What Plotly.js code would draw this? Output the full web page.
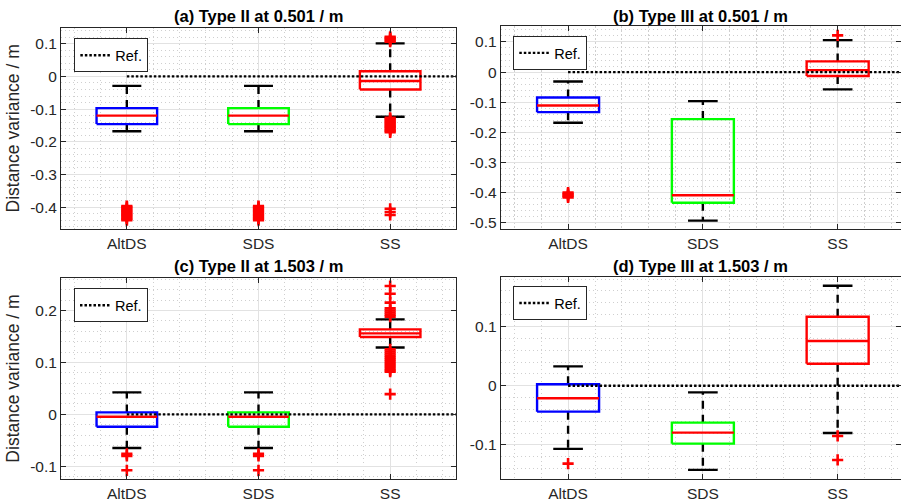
<!DOCTYPE html>
<html>
<head>
<meta charset="utf-8">
<script src="https://cdn.plot.ly/plotly-3.0.1.min.js"></script>
<style>
  html, body { margin: 0; padding: 0; background: #fff; }
  #chart { width: 901px; height: 504px; }
</style>
</head>
<body>
<div id="chart"></div>
<script>
// Box-plot statistics of the distance variance (m) for each method.
const categories = ['AltDS', 'SDS', 'SS'];
const boxColors = ['#0000ff', '#00ff00', '#ff0000'];
const refLevel = 0;

// (a) Type II at 0.501 m
const aQ1 = [-0.146, -0.146, -0.040];
const aMedian = [-0.120, -0.120, -0.014];
const aQ3 = [-0.097, -0.097, 0.016];
const aLower = [-0.168, -0.168, -0.1235];
const aUpper = [-0.029, -0.029, 0.101];
const aOutAltDS = [-0.397, -0.400, -0.404, -0.408, -0.412, -0.416, -0.420, -0.424, -0.428, -0.432, -0.436, -0.440];
const aOutSDS = [-0.397, -0.400, -0.404, -0.408, -0.412, -0.416, -0.420, -0.424, -0.428, -0.432, -0.436, -0.440];
const aOutSS = [0.106, 0.110, 0.114, 0.118, 0.121, -0.127, -0.131, -0.135, -0.139, -0.143, -0.147, -0.151,
                -0.155, -0.159, -0.163, -0.167, -0.171, -0.405, -0.415, -0.424];

// (b) Type III at 0.501 m
const bQ1 = [-0.133, -0.434, -0.013];
const bMedian = [-0.111, -0.409, 0.0066];
const bQ3 = [-0.0844, -0.156, 0.0355];
const bLower = [-0.168, -0.493, -0.0575];
const bUpper = [-0.031, -0.0963, 0.106];
const bOutAltDS = [-0.400, -0.404, -0.408, -0.412, -0.416];
const bOutSDS = [];
const bOutSS = [0.122];

// (c) Type II at 1.503 m
const cQ1 = [-0.0238, -0.0238, 0.149];
const cMedian = [-0.0046, -0.0046, 0.1558];
const cQ3 = [0.0038, 0.0038, 0.1635];
const cLower = [-0.0648, -0.0648, 0.1288];
const cUpper = [0.0423, 0.0423, 0.1827];
const cOutAltDS = [-0.076, -0.080, -0.1077];
const cOutSDS = [-0.076, -0.080, -0.1077];
const cOutSS = [0.247, 0.232, 0.215, 0.204, 0.200, 0.196, 0.192, 0.188,
                0.125, 0.121, 0.117, 0.113, 0.109, 0.105, 0.101, 0.097, 0.093, 0.089, 0.085, 0.082, 0.039];

// (d) Type III at 1.503 m
const dQ1 = [-0.0438, -0.0978, 0.0371];
const dMedian = [-0.0213, -0.0792, 0.0754];
const dQ3 = [0.0024, -0.0624, 0.1164];
const dLower = [-0.1067, -0.142, -0.0798];
const dUpper = [0.0327, -0.0112, 0.1686];
const dOutAltDS = [-0.1315];
const dOutSDS = [];
const dOutSS = [-0.0848, -0.1253];

const panels = [
  {title: '(a) Type II at 0.501 / m', q1: aQ1, med: aMedian, q3: aQ3, lo: aLower, hi: aUpper,
   out: [aOutAltDS, aOutSDS, aOutSS], yr: [-0.467, 0.149], yt: [-0.4, -0.3, -0.2, -0.1, 0, 0.1]},
  {title: '(b) Type III at 0.501 / m', q1: bQ1, med: bMedian, q3: bQ3, lo: bLower, hi: bUpper,
   out: [bOutAltDS, bOutSDS, bOutSS], yr: [-0.522, 0.153], yt: [-0.5, -0.4, -0.3, -0.2, -0.1, 0, 0.1]},
  {title: '(c) Type II at 1.503 / m', q1: cQ1, med: cMedian, q3: cQ3, lo: cLower, hi: cUpper,
   out: [cOutAltDS, cOutSDS, cOutSS], yr: [-0.125, 0.263], yt: [-0.1, 0, 0.1, 0.2]},
  {title: '(d) Type III at 1.503 / m', q1: dQ1, med: dMedian, q3: dQ3, lo: dLower, hi: dUpper,
   out: [dOutAltDS, dOutSDS, dOutSS], yr: [-0.158, 0.184], yt: [-0.1, 0, 0.1]}
];

// Subplot geometry
const xDomains = [[0.0677, 0.5061], [0.5557, 1], [0.0677, 0.5061], [0.5557, 1]];
const xRanges = [[0.5, 3.5], [0.5, 3.47], [0.5, 3.5], [0.5, 3.47]];
const yDomains = [[0.5456, 0.9450], [0.5450, 0.9484], [0.0490, 0.4490], [0.0490, 0.4510]];
const legendPos = [[0.0825, 0.9240], [0.5697, 0.9286], [0.0821, 0.4280], [0.5697, 0.4325]];
const titleY = [0.9673, 0.9692, 0.4722, 0.4732];

const FONT = 'Liberation Sans, Arial, Helvetica, sans-serif';
const INK = '#262626';
const BOX_HALF = 0.23;
const CAP_HALF = 0.11;
const LW = 2.4;

const fmt = v => (v === 0 ? '0' : String(v));

const traces = [];
const layout = {
  width: 901, height: 504,
  margin: {l: 0, r: 0, t: 0, b: 0},
  paper_bgcolor: '#ffffff', plot_bgcolor: '#ffffff',
  font: {family: FONT, color: INK},
  hovermode: false,
  annotations: []
};

panels.forEach((p, i) => {
  const n = i + 1;
  const xa = n === 1 ? 'x' : 'x' + n;
  const ya = n === 1 ? 'y' : 'y' + n;
  const legendId = n === 1 ? 'legend' : 'legend' + n;

  categories.forEach((cat, k) => {
    const c = k + 1;
    // whiskers (dashed), drawn outward from the box
    traces.push({type: 'scatter', mode: 'lines', xaxis: xa, yaxis: ya, showlegend: false,
      x: [c, c], y: [p.q3[k], p.hi[k]], line: {color: '#000', width: LW, dash: '8px,6px'}});
    traces.push({type: 'scatter', mode: 'lines', xaxis: xa, yaxis: ya, showlegend: false,
      x: [c, c], y: [p.q1[k], p.lo[k]], line: {color: '#000', width: LW, dash: '8px,6px'}});
    // whisker caps
    traces.push({type: 'scatter', mode: 'lines', xaxis: xa, yaxis: ya, showlegend: false,
      x: [c - CAP_HALF, c + CAP_HALF], y: [p.hi[k], p.hi[k]], line: {color: '#000', width: LW}});
    traces.push({type: 'scatter', mode: 'lines', xaxis: xa, yaxis: ya, showlegend: false,
      x: [c - CAP_HALF, c + CAP_HALF], y: [p.lo[k], p.lo[k]], line: {color: '#000', width: LW}});
    // box outline
    traces.push({type: 'scatter', mode: 'lines', xaxis: xa, yaxis: ya, showlegend: false,
      x: [c - BOX_HALF, c + BOX_HALF, c + BOX_HALF, c - BOX_HALF, c - BOX_HALF],
      y: [p.q1[k], p.q1[k], p.q3[k], p.q3[k], p.q1[k]],
      line: {color: boxColors[k], width: LW}});
    // median
    traces.push({type: 'scatter', mode: 'lines', xaxis: xa, yaxis: ya, showlegend: false,
      x: [c - BOX_HALF, c + BOX_HALF], y: [p.med[k], p.med[k]], line: {color: '#ff0000', width: LW}});
    // outliers
    if (p.out[k].length) {
      traces.push({type: 'scatter', mode: 'markers', xaxis: xa, yaxis: ya, showlegend: false,
        x: p.out[k].map(() => c), y: p.out[k],
        marker: {symbol: 'cross-thin', size: 8, color: '#ff0000', line: {color: '#ff0000', width: 2.6}}});
    }
  });

  // reference line at zero, from the first category to the right edge
  traces.push({type: 'scatter', mode: 'lines', xaxis: xa, yaxis: ya, name: 'Ref.',
    legend: legendId, showlegend: true,
    x: [1, xRanges[i][1]], y: [refLevel, refLevel],
    line: {color: '#000', width: 2.4, dash: '2.5px,2px'}});

  layout[n === 1 ? 'xaxis' : 'xaxis' + n] = {
    domain: xDomains[i], range: xRanges[i], anchor: ya,
    tickmode: 'array', tickvals: [1, 2, 3], ticktext: categories,
    ticks: 'inside', ticklen: 5, tickcolor: INK, tickwidth: 1,
    showline: true, linecolor: INK, linewidth: 1, mirror: 'ticks',
    showgrid: true, gridcolor: '#e2e2e2', gridwidth: 1, zeroline: false,
    tickfont: {family: FONT, size: 15.5, color: INK},
    minor: {tickmode: 'linear', tick0: 0, dtick: 0.2, showgrid: true, griddash: '1.5px,2.5px',
            gridcolor: '#cfcfcf', gridwidth: 1, ticks: ''},
    fixedrange: true
  };
  const yAxis = {
    domain: yDomains[i], range: p.yr, anchor: xa,
    tickmode: 'array', tickvals: p.yt, ticktext: p.yt.map(fmt),
    ticks: 'inside', ticklen: 5, tickcolor: INK, tickwidth: 1,
    showline: true, linecolor: INK, linewidth: 1, mirror: 'ticks',
    showgrid: true, gridcolor: '#e2e2e2', gridwidth: 1, zeroline: false,
    tickfont: {family: FONT, size: 15.5, color: INK},
    minor: {tickmode: 'linear', tick0: 0, dtick: 0.02, showgrid: true, griddash: '1.5px,2.5px',
            gridcolor: '#cfcfcf', gridwidth: 1, ticks: ''},
    fixedrange: true
  };
  if (n === 1 || n === 3) {
    yAxis.title = {text: 'Distance variance / m', font: {family: FONT, size: 17.5, color: INK}, standoff: 6};
  }
  layout[n === 1 ? 'yaxis' : 'yaxis' + n] = yAxis;

  layout[legendId] = {
    x: legendPos[i][0], y: legendPos[i][1], xref: 'paper', yref: 'paper',
    xanchor: 'left', yanchor: 'top',
    bgcolor: '#ffffff', bordercolor: INK, borderwidth: 1,
    font: {family: FONT, size: 14.5, color: '#000'},
    itemwidth: 30, tracegroupgap: 0
  };

  layout.annotations.push({
    text: '<b>' + p.title + '</b>', showarrow: false,
    xref: xa + ' domain', x: 0.5, yref: 'paper', y: titleY[i],
    xanchor: 'center', yanchor: 'middle',
    font: {family: FONT, size: 16.5, color: '#000'}
  });
});

Plotly.newPlot('chart', traces, layout, {staticPlot: true, displayModeBar: false});
</script>
</body>
</html>
